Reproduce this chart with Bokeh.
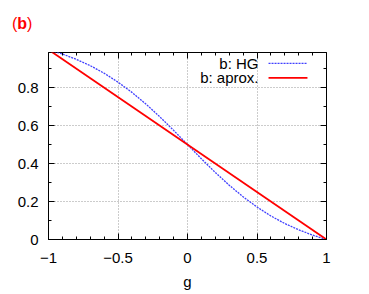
from bokeh.plotting import figure
from bokeh.layouts import column
from bokeh.models import Range1d, LinearAxis, Label, FixedTicker, CustomJSTickFormatter, Div
from bokeh.embed import file_html
from bokeh.resources import INLINE

# data
g_hg = [-1.0, -0.9, -0.8, -0.7, -0.6, -0.5, -0.4, -0.3, -0.2, -0.1, 0.0,
        0.1, 0.2, 0.3, 0.4, 0.5, 0.6, 0.7, 0.8, 0.9, 1.0]
b_hg = [1.0, 0.977, 0.949, 0.916, 0.876, 0.829, 0.775, 0.714, 0.647, 0.575, 0.5,
        0.425, 0.353, 0.286, 0.225, 0.171, 0.124, 0.084, 0.051, 0.023, 0.0]
g_ap = [-1.0, 1.0]
b_ap = [1.0, 0.0]
x_ticks = [-1, -0.5, 0, 0.5, 1]
y_ticks = [0, 0.2, 0.4, 0.6, 0.8]
x_minor = [i / 10 for i in range(-10, 11)]
y_minor = [i / 10 for i in range(0, 10)]

FONT = "Liberation Sans"

p = figure(width=366, height=256, output_backend="svg", toolbar_location=None,
           x_range=Range1d(-1, 1), y_range=Range1d(0, 0.985),
           min_border_left=48, min_border_right=40, min_border_top=16, min_border_bottom=48)
p.outline_line_color = "black"
p.outline_line_width = 1
p.background_fill_color = "white"
p.border_fill_color = "white"

fmt_x = CustomJSTickFormatter(code="""
const k = Math.round(tick*10)/10;
if (k < 0) return "\u2212" + String(-k);
return String(k);
""")
blank = CustomJSTickFormatter(code="return '';")

def style(ax, labels=True):
    ax.axis_line_color = None
    ax.major_tick_in = 6
    ax.major_tick_out = 0
    ax.minor_tick_in = 3
    ax.minor_tick_out = 0
    ax.major_tick_line_color = "black"
    ax.minor_tick_line_color = "black"
    ax.major_label_text_font = FONT
    ax.major_label_text_font_size = "15px"
    ax.major_label_text_color = "black"
    ax.axis_label_text_font = FONT
    ax.axis_label_text_font_size = "15px"
    ax.axis_label_text_font_style = "normal"
    ax.axis_label_text_color = "black"
    if not labels:
        ax.formatter = blank
        ax.major_label_standoff = 0

xa = p.xaxis[0]
xa.ticker = FixedTicker(ticks=x_ticks, minor_ticks=x_minor)
xa.formatter = fmt_x
xa.axis_label = "g"
style(xa)
xa.major_label_standoff = 13
xa.axis_label_standoff = 7

ya = p.yaxis[0]
ya.ticker = FixedTicker(ticks=y_ticks, minor_ticks=y_minor)
style(ya)
ya.major_label_standoff = 10

top = LinearAxis(ticker=FixedTicker(ticks=x_ticks, minor_ticks=x_minor))
style(top, labels=False)
p.add_layout(top, "above")
right = LinearAxis(ticker=FixedTicker(ticks=y_ticks, minor_ticks=y_minor))
style(right, labels=False)
p.add_layout(right, "right")

p.xgrid.ticker = FixedTicker(ticks=x_ticks)
p.ygrid.ticker = FixedTicker(ticks=y_ticks)
for gr in (p.xgrid[0], p.ygrid[0]):
    gr.grid_line_color = "#999999"
    gr.grid_line_dash = "1 2"
    gr.grid_line_width = 1

p.line(g_hg, b_hg, line_color="#4040ff", line_width=1.3, line_dash="2 1")
p.line(g_ap, b_ap, line_color="#ff0000", line_width=1.8)

# legend (text left, sample right)
p.add_layout(Label(x=0.511, y=0.928, text="b: HG", text_align="right", text_baseline="middle",
                   text_font=FONT, text_font_size="15px", text_color="black"))
p.add_layout(Label(x=0.511, y=0.851, text="b: aprox.", text_align="right", text_baseline="middle",
                   text_font=FONT, text_font_size="15px", text_color="black"))
p.line([0.583, 0.863], [0.928, 0.928], line_color="#4040ff", line_width=1.3, line_dash="2 1")
p.line([0.583, 0.863], [0.851, 0.851], line_color="#ff0000", line_width=1.8)

# panel label "(b)"
div = Div(text='<span style="color:#ff0000;font-family:\'Liberation Sans\';font-size:16px;">(<b>b</b>)</span>',
          width=100, height=36,
          styles={"padding-left": "12px", "padding-top": "16px", "margin": "0", "line-height": "16px"})

layout = column(div, p, spacing=0)
open("out.html", "w").write(file_html(layout, INLINE))
